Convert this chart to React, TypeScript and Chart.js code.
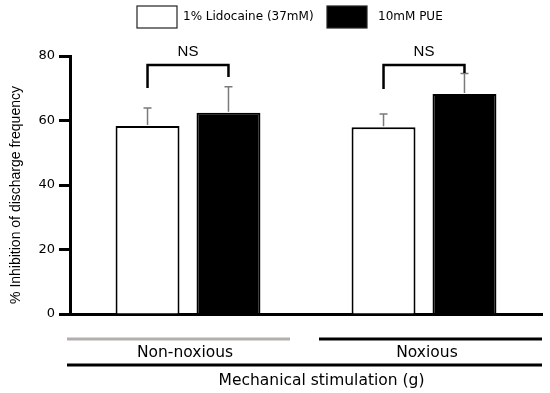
import React, { useEffect, useRef } from 'react';
import { Chart, registerables } from 'chart.js';
Chart.register(...registerables);

const categories = ['Non-noxious', 'Noxious'];
const seriesNames = ['1% Lidocaine (37mM)', '10mM PUE'];
const lidocaine = [58.3, 57.9];
const lidocaineErr = [5.6, 4.1];
const pue = [62.4, 68.2];
const pueErr = [8.1, 6.4];
const bracketTop = [77.2, 77.2];
const bracketLeftEnd = [70.1, 69.8];
const bracketRightEnd = [73.5, 74.7];
const sigLabels = ['NS', 'NS'];
const yMin = 0;
const yMax = 80;
const yStep = 20;
const xTitle = 'Mechanical stimulation (g)';
const yTitle = '% Inhibition of discharge frequency';

const VERDANA = '"DejaVu Sans", Verdana, sans-serif';
const ARIAL = '"Liberation Sans", Arial, sans-serif';

const overlay = {
  id: 'overlay',
  afterDatasetsDraw(chart: any) {
    const ctx = chart.ctx;
    const y = chart.scales.y;
    const errs = [lidocaineErr, pueErr];
    const vals = [lidocaine, pue];
    ctx.save();
    // error bars
    ctx.strokeStyle = '#7a7a7a';
    ctx.lineWidth = 1.5;
    for (let d = 0; d < 2; d++) {
      const meta = chart.getDatasetMeta(d);
      meta.data.forEach((bar: any, j: number) => {
        const top = y.getPixelForValue(vals[d][j] + errs[d][j]);
        ctx.beginPath();
        ctx.moveTo(bar.x, bar.y - 1);
        ctx.lineTo(bar.x, top);
        ctx.moveTo(bar.x - 4, top);
        ctx.lineTo(bar.x + 4, top);
        ctx.stroke();
      });
    }
    // brackets
    ctx.strokeStyle = '#000';
    ctx.lineWidth = 2.5;
    const m0 = chart.getDatasetMeta(0);
    const m1 = chart.getDatasetMeta(1);
    for (let j = 0; j < categories.length; j++) {
      const xl = m0.data[j].x;
      const xr = m1.data[j].x;
      const yt = y.getPixelForValue(bracketTop[j]);
      ctx.beginPath();
      ctx.moveTo(xl, y.getPixelForValue(bracketLeftEnd[j]));
      ctx.lineTo(xl, yt);
      ctx.lineTo(xr, yt);
      ctx.lineTo(xr, y.getPixelForValue(bracketRightEnd[j]));
      ctx.stroke();
      ctx.fillStyle = '#000';
      ctx.font = '15px ' + ARIAL;
      ctx.textAlign = 'center';
      ctx.textBaseline = 'middle';
      ctx.fillText(sigLabels[j], (xl + xr) / 2, yt - 13);
    }
    ctx.restore();
  },
  afterDraw(chart: any) {
    const ctx = chart.ctx;
    const area = chart.chartArea;
    const x = chart.scales.x;
    const mid = (area.left + area.right) / 2;
    ctx.save();
    // group lines
    const lineY = area.bottom + 25;
    ctx.lineWidth = 3;
    ctx.strokeStyle = '#b5aeae';
    ctx.beginPath();
    ctx.moveTo(area.left - 3, lineY);
    ctx.lineTo(mid - 16, lineY);
    ctx.stroke();
    ctx.strokeStyle = '#000';
    ctx.beginPath();
    ctx.moveTo(mid + 13, lineY);
    ctx.lineTo(area.right, lineY);
    ctx.stroke();
    ctx.fillStyle = '#000';
    ctx.font = '15.5px ' + VERDANA;
    ctx.textAlign = 'center';
    ctx.textBaseline = 'middle';
    categories.forEach((c, j) => {
      ctx.fillText(c, x.getPixelForValue(j) + (j === 0 ? -3 : 3), lineY + 14);
    });
    const line2 = area.bottom + 51;
    ctx.beginPath();
    ctx.moveTo(area.left - 3, line2);
    ctx.lineTo(area.right, line2);
    ctx.stroke();
    ctx.fillText(xTitle, (area.left - 3 + area.right) / 2 + 17, line2 + 16);
    // y title
    ctx.save();
    ctx.translate(16, 195);
    ctx.rotate(-Math.PI / 2);
    ctx.font = '14px ' + ARIAL;
    ctx.fillText(yTitle, 0, 0);
    ctx.restore();
    // legend
    ctx.font = '12px ' + VERDANA;
    ctx.textAlign = 'left';
    const fills = ['#fff', '#000'];
    const boxX = [137, 327];
    seriesNames.forEach((n, i) => {
      ctx.fillStyle = fills[i];
      ctx.fillRect(boxX[i], 6, 40, 22);
      ctx.strokeStyle = '#222';
      ctx.lineWidth = 1.2;
      ctx.strokeRect(boxX[i], 6, 40, 22);
      ctx.fillStyle = '#000';
      ctx.fillText(n, boxX[i] + (i === 0 ? 46 : 51), 17);
    });
    ctx.restore();
  },
};

export default function App() {
  const ref = useRef<HTMLCanvasElement>(null);
  useEffect(() => {
    const chart = new Chart(ref.current!, {
      type: 'bar',
      data: {
        labels: categories,
        datasets: [
          {
            label: seriesNames[0],
            data: lidocaine,
            backgroundColor: '#fff',
            borderColor: '#000',
            borderWidth: 2,
          },
          {
            label: seriesNames[1],
            data: pue,
            backgroundColor: '#000',
            borderColor: '#000',
            borderWidth: 2,
          },
        ],
      },
      options: {
        animation: false,
        responsive: false,
        maintainAspectRatio: false,
        layout: { padding: { top: 56, right: 8, left: 0, bottom: 0 } },
        datasets: { bar: { categoryPercentage: 0.686, barPercentage: 0.79 } },
        plugins: { legend: { display: false }, tooltip: { enabled: false } },
        scales: {
          x: {
            grid: { display: false },
            border: { display: true, color: '#000', width: 3 },
            ticks: { display: false },
            afterFit: (s: any) => {
              s.height = 79;
            },
          },
          y: {
            min: yMin,
            max: yMax,
            grid: {
              drawOnChartArea: false,
              drawTicks: true,
              tickLength: 11,
              tickWidth: 3,
              tickColor: '#000',
            },
            border: { display: true, color: '#000', width: 3 },
            ticks: {
              stepSize: yStep,
              color: '#000',
              padding: 4,
              font: { family: VERDANA, size: 13 },
            },
            afterFit: (s: any) => {
              s.width = 70;
            },
          },
        },
      },
      plugins: [overlay],
    } as any);
    return () => chart.destroy();
  }, []);
  return (
    <div style={{ position: 'fixed', left: 0, top: 0, width: 550, height: 393, background: '#fff' }}>
      <canvas ref={ref} width={550} height={393} style={{ width: 550, height: 393 }} />
    </div>
  );
}
